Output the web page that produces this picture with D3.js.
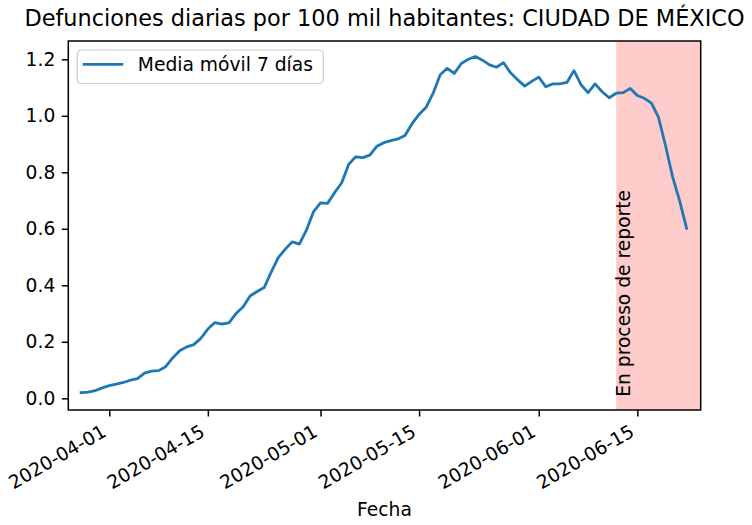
<!DOCTYPE html>
<html>
<head>
<meta charset="utf-8">
<script src="https://cdn.jsdelivr.net/npm/d3@7"></script>
<style>
  html, body { margin: 0; padding: 0; background: #fff; }
  svg text { font-family: "DejaVu Sans", sans-serif; fill: #000; }
</style>
</head>
<body>
<svg id="chart" width="752" height="525"></svg>
<script>
// Datos: media móvil de 7 días, un valor por día desde 2020-03-28
const startDate = "2020-03-28";
const mediaMovil = [
  0.020, 0.022, 0.027, 0.037, 0.045, 0.050, 0.056, 0.064, 0.070, 0.089,
  0.096, 0.098, 0.112, 0.143, 0.168, 0.182, 0.190, 0.212, 0.245, 0.268,
  0.263, 0.267, 0.300, 0.323, 0.362, 0.378, 0.392, 0.447, 0.498, 0.528,
  0.554, 0.546, 0.595, 0.660, 0.692, 0.690, 0.728, 0.762, 0.828, 0.855,
  0.852, 0.861, 0.892, 0.905, 0.912, 0.918, 0.930, 0.972, 1.005, 1.030,
  1.080, 1.145, 1.168, 1.150, 1.185, 1.200, 1.210, 1.197, 1.180, 1.172,
  1.188, 1.152, 1.128, 1.105, 1.122, 1.137, 1.103, 1.113, 1.113, 1.118,
  1.160, 1.110, 1.082, 1.113, 1.085, 1.064, 1.080, 1.082, 1.097, 1.072,
  1.062, 1.045, 0.995, 0.895, 0.785, 0.700, 0.602
];
const xTickLabels = ["2020-04-01", "2020-04-15", "2020-05-01", "2020-05-15", "2020-06-01", "2020-06-15"];
const yTickValues = [0, 0.2, 0.4, 0.6, 0.8, 1.0, 1.2];
const spanDates = ["2020-06-12", "2020-06-24"];
const xDomain = ["2020-03-26T04:20", "2020-06-24T00:00"];
const yDomain = [-0.0414, 1.2648];

const titulo = "Defunciones diarias por 100 mil habitantes: CIUDAD DE MÉXICO";
const etiquetaSerie = "Media móvil 7 días";
const etiquetaX = "Fecha";
const etiquetaSpan = "En proceso de reporte";

// Geometría del área de ejes
const margin = { left: 68.3, right: 51.3, top: 41, bottom: 115 };
const W = 752, H = 525;
const iw = W - margin.left - margin.right;
const ih = H - margin.top - margin.bottom;
const tickLen = 6.5, tickPad = 6.5, fs = 18.7;

const parseDay = d3.utcParse("%Y-%m-%d");
const parseTime = d3.utcParse("%Y-%m-%dT%H:%M");
const t0 = parseDay(startDate);
const data = mediaMovil.map((v, i) => ({ date: d3.utcDay.offset(t0, i), value: v }));

const svg = d3.select("#chart");
const g = svg.append("g").attr("transform", `translate(${margin.left},${margin.top})`);

const x = d3.scaleUtc().domain(xDomain.map(parseTime)).range([0, iw]);
const y = d3.scaleLinear().domain(yDomain).range([ih, 0]);

// Zona "en proceso de reporte"
const s0 = x(parseDay(spanDates[0]));
const s1 = x(parseDay(spanDates[1]));
g.append("rect")
  .attr("x", s0)
  .attr("y", 0)
  .attr("width", s1 - s0)
  .attr("height", ih)
  .attr("fill", "#ffcccc");

g.append("text")
  .attr("transform", `translate(${s0 + 13.8},${y(0) - 1.5}) rotate(-90)`)
  .attr("font-size", fs)
  .text(etiquetaSpan);

// Línea
const line = d3.line().x((d) => x(d.date)).y((d) => y(d.value));
g.append("path")
  .datum(data)
  .attr("fill", "none")
  .attr("stroke", "#1f77b4")
  .attr("stroke-width", 2.8)
  .attr("stroke-linejoin", "round")
  .attr("stroke-linecap", "square")
  .attr("d", line);

// Eje X
const xAxis = d3.axisBottom(x)
  .tickValues(xTickLabels.map(parseDay))
  .tickFormat(d3.utcFormat("%Y-%m-%d"))
  .tickSize(tickLen)
  .tickPadding(0);
const gx = g.append("g").attr("transform", `translate(0,${ih})`).call(xAxis);
gx.select(".domain").remove();
gx.selectAll(".tick line").attr("stroke", "#000").attr("stroke-width", 1.5);
gx.selectAll(".tick text")
  .attr("font-size", fs)
  .attr("font-family", "DejaVu Sans")
  .attr("fill", "#000")
  .attr("text-anchor", "end")
  .attr("dy", null)
  .attr("y", null)
  .attr("transform", `translate(${-fs * 0.12},${tickLen + tickPad + fs * 0.66}) rotate(-30)`);

// Eje Y
const yAxis = d3.axisLeft(y)
  .tickValues(yTickValues)
  .tickFormat(d3.format(".1f"))
  .tickSize(tickLen)
  .tickPadding(tickPad);
const gy = g.append("g").call(yAxis);
gy.select(".domain").remove();
gy.selectAll(".tick line").attr("stroke", "#000").attr("stroke-width", 1.5);
gy.selectAll(".tick text")
  .attr("font-size", fs)
  .attr("font-family", "DejaVu Sans")
  .attr("fill", "#000");

// Marco
g.append("rect")
  .attr("width", iw)
  .attr("height", ih)
  .attr("fill", "none")
  .attr("stroke", "#000")
  .attr("stroke-width", 1.5);

// Leyenda
const lg = g.append("g").attr("transform", "translate(9,9)");
lg.append("rect")
  .attr("width", 246)
  .attr("height", 33.5)
  .attr("rx", 4)
  .attr("fill", "#fff")
  .attr("fill-opacity", 0.8)
  .attr("stroke", "#cccccc")
  .attr("stroke-width", 1.2);
lg.append("line")
  .attr("x1", 5.5)
  .attr("x2", 46)
  .attr("y1", 14.3)
  .attr("y2", 14.3)
  .attr("stroke", "#1f77b4")
  .attr("stroke-width", 2.8);
lg.append("text")
  .attr("x", 60.5)
  .attr("y", 21)
  .attr("font-size", fs)
  .text(etiquetaSerie);

// Título y etiqueta del eje
svg.append("text")
  .attr("x", margin.left + iw / 2)
  .attr("y", 26)
  .attr("text-anchor", "middle")
  .attr("font-size", 22.4)
  .text(titulo);

svg.append("text")
  .attr("x", margin.left + iw / 2)
  .attr("y", 516)
  .attr("text-anchor", "middle")
  .attr("font-size", fs)
  .text(etiquetaX);
</script>
</body>
</html>
